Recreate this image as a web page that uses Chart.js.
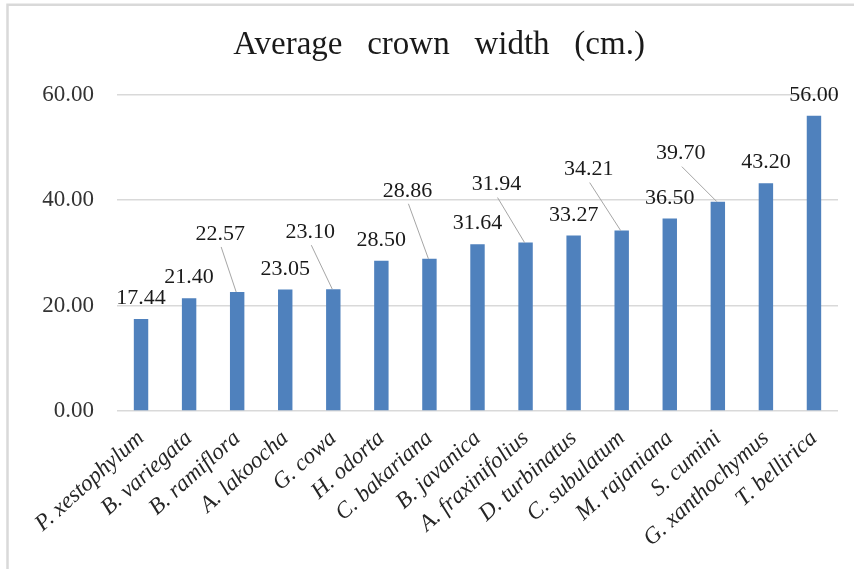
<!DOCTYPE html>
<html><head><meta charset="utf-8">
<script src="https://cdn.jsdelivr.net/npm/chart.js@4/dist/chart.umd.min.js"></script>
<style>html,body{margin:0;padding:0;background:#fff}#wrap{width:854px;height:569px}</style>
</head><body><div id="wrap"><canvas id="c" width="854" height="569"></canvas></div>
<script>
const categories = ["P. xestophylum","B. variegata","B. ramiflora","A. lakoocha","G. cowa","H. odorta","C. bakariana","B. javanica","A. fraxinifolius","D. turbinatus","C. subulatum","M. rajaniana","S. cumini","G. xanthochymus","T. bellirica"];
const crownWidth = [17.44,21.40,22.57,23.05,23.10,28.50,28.86,31.64,31.94,33.27,34.21,36.50,39.70,43.20,56.00];
const yTicks = [0,20,40,60];
const chartTitle = "Average   crown   width   (cm.)";

// label callout offsets (pixels, relative to bar top) — styling only
const calloutOffsets = [null,null,[-17,-58],null,[-23,-57],null,[-22,-68],null,[-29,-58],null,[-33,-61],null,[-37,-48],null,null];

const SERIF = "'Liberation Serif','Times New Roman',serif";

const framePlugin = {
  id: 'frame',
  beforeDraw(chart) {
    const ctx = chart.ctx;
    ctx.save();
    ctx.fillStyle = '#ffffff';
    ctx.fillRect(0, 0, chart.width, chart.height);
    ctx.strokeStyle = '#d9d9d9';
    ctx.lineWidth = 2.5;
    ctx.beginPath();
    ctx.moveTo(7.5, chart.height);
    ctx.lineTo(7.5, 4.7);
    ctx.lineTo(chart.width, 4.7);
    ctx.stroke();
    ctx.restore();
  }
};

const labelPlugin = {
  id: 'valueLabels',
  afterDatasetsDraw(chart) {
    const ctx = chart.ctx;
    const meta = chart.getDatasetMeta(0);
    ctx.save();
    ctx.font = "22px " + SERIF;
    ctx.fillStyle = '#1a1a1a';
    ctx.textAlign = 'center';
    ctx.textBaseline = 'middle';
    meta.data.forEach((bar, i) => {
      const v = chart.data.datasets[0].data[i];
      const off = calloutOffsets[i];
      let lx, ly;
      if (off) {
        lx = bar.x + off[0];
        ly = bar.y + off[1];
        ctx.strokeStyle = '#a6a6a6';
        ctx.lineWidth = 1;
        ctx.beginPath();
        ctx.moveTo(lx + 1, ly + 13);
        ctx.lineTo(bar.x - 1, bar.y);
        ctx.stroke();
      } else {
        lx = bar.x;
        ly = bar.y - 20.5;
      }
      ctx.fillText(v.toFixed(2), lx, ly);
    });
    ctx.restore();
  }
};

new Chart(document.getElementById('c'), {
  type: 'bar',
  data: {
    labels: categories,
    datasets: [{
      data: crownWidth,
      backgroundColor: '#4f81bd',
      borderWidth: 0,
      barPercentage: 0.3,
      categoryPercentage: 1.0
    }]
  },
  options: {
    responsive: false,
    animation: false,
    devicePixelRatio: 1,
    layout: { padding: { left: 40, right: 16, top: 4, bottom: 0 } },
    plugins: {
      legend: { display: false },
      tooltip: { enabled: false },
      title: {
        display: true,
        text: chartTitle,
        color: '#1a1a1a',
        font: { family: SERIF, size: 33, weight: 'normal', lineHeight: 1.2 },
        padding: { top: 22, bottom: 29 }
      }
    },
    scales: {
      y: {
        min: 0, max: 60,
        afterBuildTicks(s) { s.ticks = yTicks.map(v => ({ value: v })); },
        afterFit(s) { s.width = 77; },
        ticks: {
          padding: 23,
          color: '#333333',
          font: { family: SERIF, size: 23 },
          callback: v => Number(v).toFixed(2)
        },
        grid: { color: '#d9d9d9', lineWidth: 1.5, drawTicks: false },
        border: { display: false }
      },
      x: {
        afterFit(s) { s.height = 158; },
        grid: { display: false, drawTicks: false },
        border: { display: false },
        ticks: {
          autoSkip: false,
          maxRotation: 42, minRotation: 42,
          padding: 14,
          color: '#262626',
          font: { family: SERIF, size: 23, style: 'italic' }
        }
      }
    }
  },
  plugins: [framePlugin, labelPlugin]
});
</script></body></html>
